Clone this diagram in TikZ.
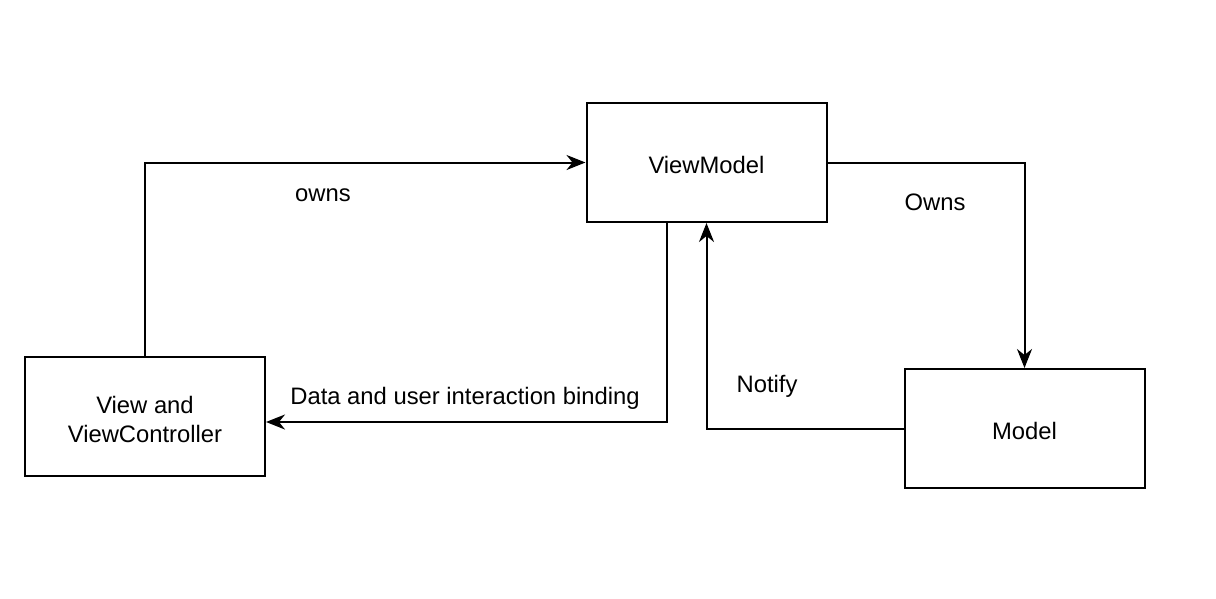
\documentclass[tikz,border=0pt]{standalone}
\usepackage{fontspec}
\setmainfont{Liberation Sans}
\usetikzlibrary{arrows.meta}
\begin{document}
\begin{tikzpicture}[x=1pt,y=-1pt,
 box/.style={draw, line width=2pt, minimum width=240pt, minimum height=119pt, inner sep=0pt},
 conn/.style={line width=2pt, -{Stealth[length=19pt,width=15pt,inset=6pt]}},
 lbl/.style={font=\fontsize{23.8}{29}\selectfont, inner sep=0pt, align=center}]
\useasboundingbox[fill=white] (0,0) rectangle (1216,598);
\node[box, label={[lbl,yshift=-2pt]center:ViewModel}] (vm) at (706.5,162.5) {};
\node[box, label={[lbl,yshift=-2.5pt]center:View and\\ViewController}] (vc) at (145,416.5) {};
\node[box, label={[lbl,yshift=-2pt]center:Model}] (m) at (1024.5,428.5) {};
\draw[conn] (vc.north) |- (vm.west);
\draw[conn] (vm.east) -| (m.north);
\draw[conn] ([xshift=-39.5pt]vm.south) |- ([yshift=-5.5pt]vc.east);
\draw[conn] (m.west) -| (vm.south);
\node[lbl] (l1) at (323,195) {owns};
\node[lbl] (l2) at (935,202) {Owns};
\node[lbl] (l3) at (465,398) {Data and user interaction binding};
\node[lbl] (l4) at (767,386) {Notify};
\end{tikzpicture}
\end{document}
